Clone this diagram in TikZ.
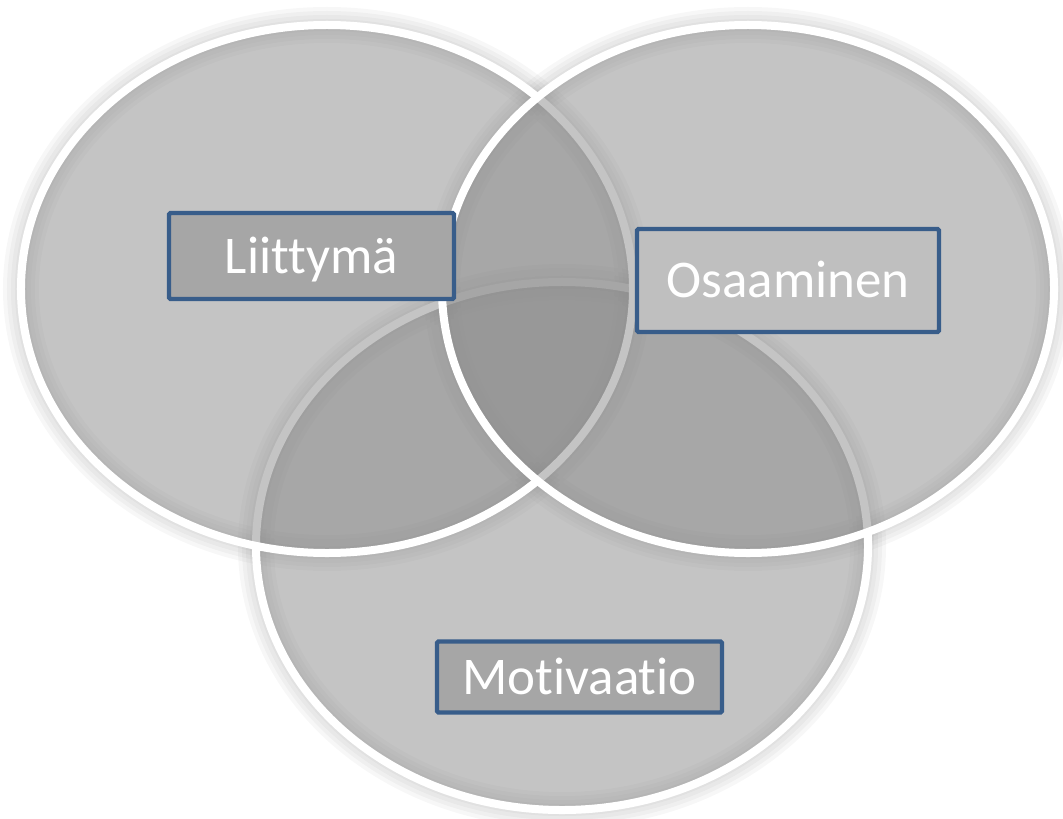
\documentclass[tikz,border=0pt]{standalone}
\usepackage{fontspec}
\setmainfont{Carlito}[Ligatures=NoCommon]
\definecolor{boxblue}{HTML}{385D8A}
\definecolor{setgray}{gray}{0.543}
\tikzset{
  set/.style={fill=setgray, fill opacity=0.5, draw=white, line width=2mm},
  set shadow/.style={draw=black, draw opacity=0.03},
  labelbox/.style={draw=boxblue, line width=1.1mm, rounded corners=0.4mm, text=white,
    font=\fontsize{37.7}{40}\selectfont, text height=8.6mm, text depth=0pt,
    inner sep=0pt, minimum width=71.25mm},
}

\begin{document}
\begin{tikzpicture}[x=0.25mm, y=-0.25mm]
\useasboundingbox (0,0) rectangle (1063,819);
% centres of the three sets
\coordinate (liittyma) at (327,289);
\coordinate (osaaminen) at (748,289);
\coordinate (motivaatio) at (562,546);
% soft shadow round each set
\foreach \c in {motivaatio,liittyma,osaaminen}
  \foreach \w in {3,5,7,9}
    \draw[set shadow, line width=\w mm] (\c) ellipse [x radius=76.5mm, y radius=66mm];
% the sets, bottom one first
\foreach \c in {motivaatio,liittyma,osaaminen}
  \draw[set] (\c) ellipse [x radius=76.5mm, y radius=66mm];
% labels
\node[labelbox, fill=black!35, minimum height=21.5mm] (liit) at (311.5,256) {Liittymä};
\node[labelbox, fill=black!25, minimum width=75.5mm, minimum height=25.75mm] (osaa) at (788,280.5) {Osaaminen};
\node[labelbox, fill=black!35, minimum height=17.75mm] (moti) at (579.5,677) {Motivaatio};
\end{tikzpicture}
\end{document}
